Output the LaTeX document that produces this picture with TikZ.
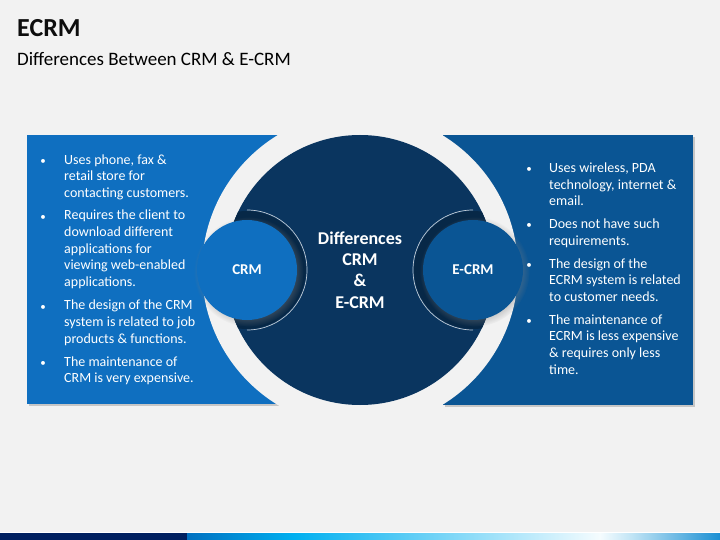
\documentclass[tikz,border=0pt]{standalone}
\usepackage{fontspec}
\setmainfont{Carlito}
\usetikzlibrary{positioning,shadows}
\definecolor{bggray}{HTML}{F2F2F2}
\definecolor{crmblue}{HTML}{0F6FC0}
\definecolor{ecrmblue}{HTML}{0A5594}
\definecolor{coreblue}{HTML}{0A355F}
\definecolor{barnavy}{HTML}{002060}
\definecolor{barblue}{HTML}{0070C0}
\definecolor{barcyan}{HTML}{00B0F0}
\definecolor{barpale}{HTML}{C0E4F5}
\definecolor{barend}{HTML}{1A8FD3}
\begin{document}
\begin{tikzpicture}[x=1pt,y=-1pt,
  panelshadow/.style={fill=black, opacity=.18},
  hub/.style={circle, minimum size=100pt, inner sep=0pt, text=white,
    font=\bfseries\fontsize{15}{18}\selectfont,
    circular drop shadow={shadow xshift=1.5pt, shadow yshift=-1.5pt, opacity=.35}},
  dot/.style={text=white, anchor=base, inner sep=0pt, font=\fontsize{11}{13}\selectfont},
  itemtext/.style={text=white, align=left, anchor=north west, inner sep=0pt,
    yshift=10.2pt, execute at begin node=\strut,
    font=\fontsize{14}{16.6}\selectfont},
  ringline/.style={white!75!coreblue, line width=0.7pt}]
  % Background and margins
  \fill[bggray] (0,0) rectangle (720,540);
  \useasboundingbox (0,0) rectangle (720,540);

  % Title
  \node[anchor=base west, inner sep=0pt, text=black!95, font=\bfseries\fontsize{26}{30}\selectfont] (title) at (17,37) {ECRM};
  \node[anchor=base west, inner sep=0pt, font=\fontsize{19}{22}\selectfont] (subtitle) at (17,65.5) {Differences Between CRM \& E-CRM};

  % Side panels, cut by the gap ring
  \fill[panelshadow] (29,137) rectangle (280,406);
  \fill[panelshadow] (445,137) rectangle (695,407);
  \fill[crmblue] (27,135) rectangle (278,404);
  \fill[ecrmblue] (443,135) rectangle (693,405);
  \fill[bggray] (360,270) circle (158);

  % Centre circle
  \node[circle, minimum size=270pt, inner sep=0pt, fill=coreblue] (core) at (360,270) {};

  % Rings behind the small circles
  \begin{scope}
    \clip (core.center) circle (135);
    \fill[coreblue!75!black] (247,270) circle (59);
    \fill[coreblue!75!black] (473,270) circle (59);
  \end{scope}
  \node[hub, fill=crmblue] (crm) at (247,270) {CRM};
  \node[hub, fill=ecrmblue] (ecrm) at (473,270) {E-CRM};
  \draw[ringline] (crm.center) ++(0,60) arc[start angle=90, end angle=-90, radius=60];
  \draw[ringline] (ecrm.center) ++(0,60) arc[start angle=90, end angle=270, radius=60];

  \node[align=center, text=white, inner sep=0pt, font=\bfseries\fontsize{18}{21.4}\selectfont] (coretext) at (core.center) {Differences\\CRM\\\&\\E-CRM};

  % CRM points
  \foreach \n/\y/\t in {1/164.5/{Uses phone, fax \&\\retail store for\\contacting customers.},
      2/220.2/{Requires the client to\\download different\\applications for\\viewing web-enabled\\applications.},
      3/310.2/{The design of the CRM\\system is related to job\\products \& functions.},
      4/366.5/{The maintenance of\\CRM is very expensive.}} {
    \node[dot] (crmdot\n) at (43,\y) {\textbullet};
    \node[itemtext] (crmitem\n) at (64,\y) {\t};
  }

  % E-CRM points
  \foreach \n/\y/\t in {1/172.8/{Uses wireless, PDA\\technology, internet \&\\email.},
      2/228.8/{Does not have such\\requirements.},
      3/268.5/{The design of the\\ECRM system is related\\to customer needs.},
      4/324.5/{The maintenance of\\ECRM is less expensive\\\& requires only less\\time.}} {
    \node[dot] (ecrmdot\n) at (529,\y) {\textbullet};
    \node[itemtext] (ecrmitem\n) at (549,\y) {\t};
  }

  % Bottom colour bar
  \fill[white] (0,532) rectangle (720,533);
  \fill[barnavy] (0,533) rectangle (187,540);
  \shade[left color=barblue, right color=barcyan] (187,533) rectangle (294,540);
  \shade[left color=barcyan, right color=white!96!barcyan] (294,533) rectangle (600,540);
  \shade[left color=white!96!barcyan, right color=barpale] (600,533) rectangle (632,540);
  \shade[left color=barpale, right color=barend] (632,533) rectangle (720,540);
\end{tikzpicture}
\end{document}
